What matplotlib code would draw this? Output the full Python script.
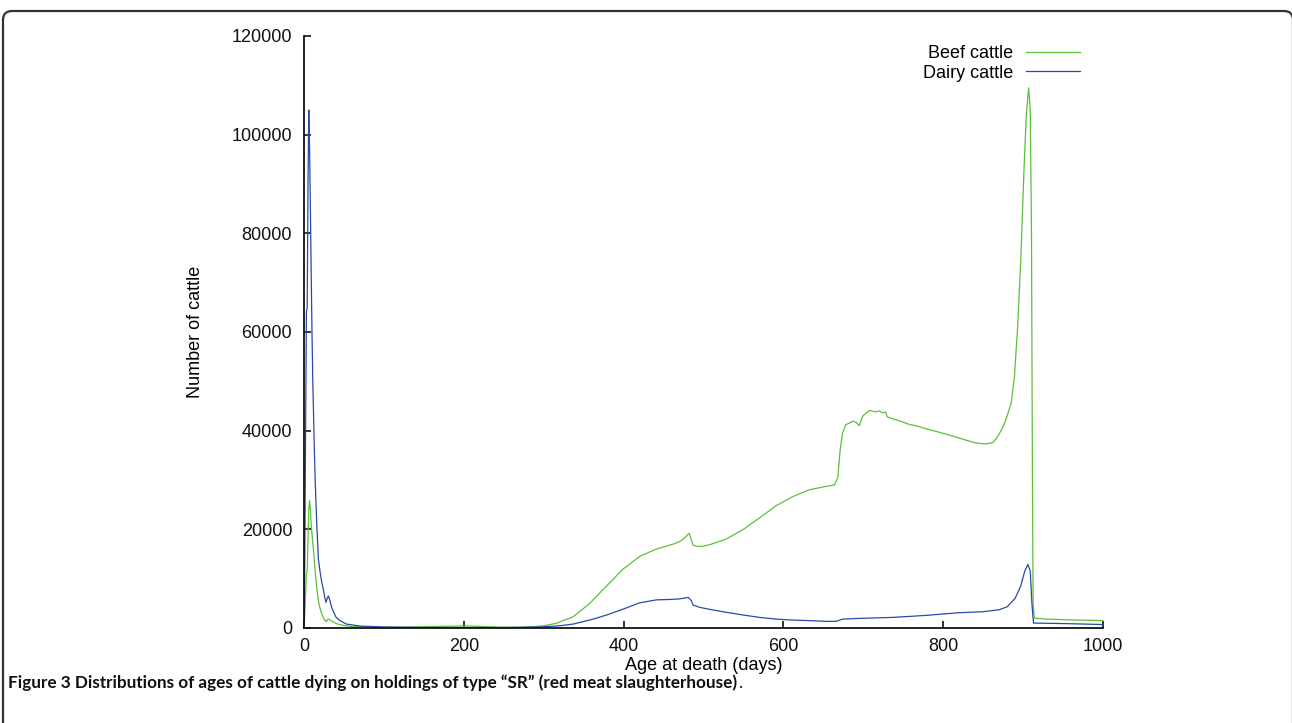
import matplotlib
matplotlib.use("Agg")
import matplotlib.pyplot as plt
from matplotlib.patches import FancyBboxPatch

# ---- data ----
beef_days = [0, 1, 2, 3, 4, 5, 6, 7, 8, 9, 10, 12, 14, 16, 18, 20, 22, 25, 28, 30, 32, 36, 40, 45, 50, 60,
             80, 100, 130, 160, 180, 200, 215, 230, 250, 270, 290, 300, 316, 337, 357, 378, 399, 412, 420,
             441, 462, 470, 476, 482, 487, 493, 500, 508, 528, 549, 570, 591, 612, 632, 653, 664, 668, 671,
             674, 678, 682, 687, 691, 695, 699, 703, 708, 715, 720, 724, 728, 730, 737, 745, 757, 768, 778,
             790, 799, 810, 820, 830, 841, 853, 862, 866, 870, 874, 878, 882, 885, 889, 893, 897, 901, 904,
             907, 909, 910.5, 911.7, 912.5, 914, 930, 950, 970, 1000]
beef_counts = [0, 3000, 7000, 11000, 11500, 18000, 24000, 25800, 24000, 21000, 19000, 15500, 11500, 8000,
               5500, 4000, 3000, 1800, 1300, 1800, 1700, 1300, 900, 700, 500, 300,
               200, 150, 200, 300, 350, 400, 350, 250, 150, 150, 300, 450, 950, 2300, 4900, 8400, 11900,
               13500, 14500, 16000, 17000, 17500, 18200, 19200, 16800, 16500, 16600, 16900, 18000, 19900,
               22300, 24800, 26650, 28000, 28700, 29000, 30500, 36000, 39500, 41200, 41500, 41900, 41700,
               41000, 42900, 43500, 44100, 43800, 44000, 43600, 43800, 42800, 42400, 42000, 41300, 40900,
               40400, 39900, 39500, 39000, 38500, 38000, 37500, 37300, 37600, 38300, 39300, 40500, 42000,
               44000, 45500, 50700, 60600, 74200, 92400, 104000, 109500, 105000, 80000, 30000, 5000, 2000,
               1800, 1700, 1600, 1500]

dairy_days = [0, 1, 2, 3, 4, 5, 6, 7, 8, 9, 10, 11, 12, 13, 14, 16, 18, 20, 22, 24, 26, 27.5, 29, 30.5, 32,
              35, 40, 45, 53, 70, 100, 150, 200, 250, 295, 320, 337, 362, 380, 399, 420, 441, 460, 470, 481,
              485, 487, 495, 507, 528, 549, 570, 591, 612, 632, 653, 666, 674, 695, 737, 778, 820, 850, 870,
              880, 890, 897, 902, 906, 909, 911, 913, 950, 1000]
dairy_counts = [0, 15000, 40000, 64000, 65000, 90000, 105000, 97000, 85000, 72000, 60000, 50000, 43000,
                36000, 30000, 21000, 14000, 11500, 9500, 8000, 6200, 5200, 6000, 6500, 5800,
                4000, 2200, 1500, 800, 400, 200, 100, 80, 100, 200, 450, 800, 1800, 2700, 3800, 5100, 5700,
                5800, 5900, 6200, 5500, 4650, 4200, 3800, 3200, 2650, 2150, 1800, 1600, 1500, 1350, 1350,
                1800, 1950, 2150, 2550, 3100, 3300, 3700, 4300, 6000, 8500, 11500, 12900, 11500, 5000, 1000,
                900, 700]

x_ticks = [0, 200, 400, 600, 800, 1000]
y_ticks = [0, 20000, 40000, 60000, 80000, 100000, 120000]
series_labels = ["Beef cattle", "Dairy cattle"]
x_label = "Age at death (days)"
y_label = "Number of cattle"
caption_bold = "Figure 3 Distributions of ages of cattle dying on holdings of type \u201cSR\u201d (red meat slaughterhouse)"
caption_tail = "."

W, H = 1292, 723
FS = 13
plt.rcParams['font.family'] = ['Liberation Sans', 'DejaVu Sans']
fig = plt.figure(figsize=(W / 100, H / 100), dpi=100)
fig.patch.set_facecolor("white")

ax = fig.add_axes([304 / W, (H - 628) / H, (1103 - 304) / W, (628 - 36) / H])
ax.plot(beef_days, beef_counts, color="#5cbf3c", lw=0.9, label=series_labels[0])
ax.plot(dairy_days, dairy_counts, color="#2a48a8", lw=0.9, label=series_labels[1])

ax.set_xlim(0, 1000)
ax.set_ylim(0, 120000)
ax.set_xticks(x_ticks)
ax.set_yticks(y_ticks)
ax.set_xticklabels([str(v) for v in x_ticks])
ax.set_yticklabels([str(v) for v in y_ticks])
for s in ["top", "right"]:
    ax.spines[s].set_visible(False)
for s in ["left", "bottom"]:
    ax.spines[s].set_linewidth(1.3)
    ax.spines[s].set_color("#111111")
ax.tick_params(direction="in", length=5, width=1.2, labelsize=FS, colors="#111111", pad=7)
ax.tick_params(axis="y", pad=8.5)
ax.set_xlabel(x_label, fontsize=FS, labelpad=2)
ax.set_ylabel(y_label, fontsize=FS, labelpad=20)

leg = ax.legend(loc="upper right", bbox_to_anchor=(0.971, 0.985), frameon=False, markerfirst=False,
                fontsize=FS, handlelength=3.0, handletextpad=0.7, labelspacing=0.15,
                borderpad=0, borderaxespad=0)

# outer frame
frame = FancyBboxPatch((3, -30), 1290, H - 11 + 30, boxstyle="round,pad=0,rounding_size=9",
                       transform=None, fill=False, ec="#333333", lw=1.6)
fig.patches.append(frame)

# caption
cap = fig.text(8 / W, (H - 688) / H, caption_bold, fontsize=10, fontweight="bold",
               family=["Lato", "DejaVu Sans"], va="baseline", ha="left", color="#111111")
fig.canvas.draw()
r = fig.canvas.get_renderer()
bb = cap.get_window_extent(r)
target = 737 - 8
cap.set_fontsize(10 * target / bb.width)
fig.canvas.draw()
bb = cap.get_window_extent(r)
fig.text(bb.x1 / W + 1 / W, (H - 688) / H, caption_tail, fontsize=cap.get_fontsize(),
         family=["Lato", "DejaVu Sans"], va="baseline", ha="left", color="#111111")

fig.savefig("out.png", dpi=100)
